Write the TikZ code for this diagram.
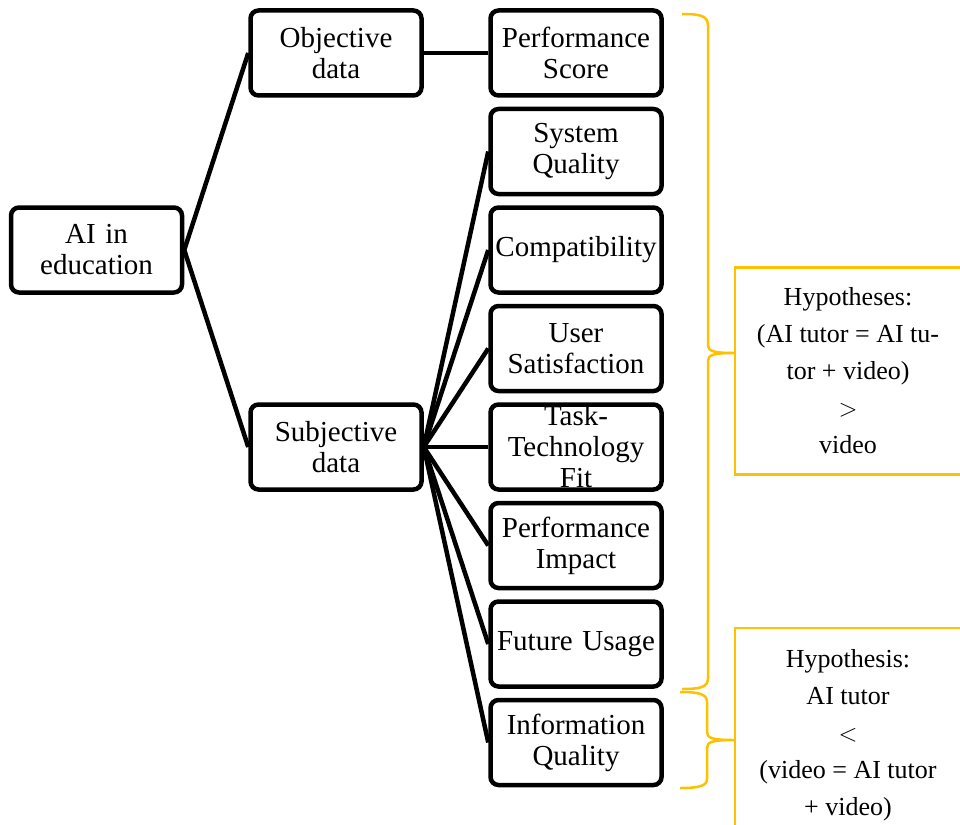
\documentclass[tikz,border=0pt]{standalone}
\usepackage{fontspec}
\setmainfont{Liberation Serif}
\usetikzlibrary{shapes.geometric, arrows, positioning}
\definecolor{hypyellow}{HTML}{FFC000}
\tikzstyle{box} = [rectangle, rounded corners=8pt, minimum width=171pt, minimum height=85pt, text width=167pt, inner xsep=2pt, align=center, draw=black, line width=4.5pt, fill=white, font=\fontsize{29}{31}\selectfont]
\tikzstyle{hypbox} = [rectangle, minimum width=226pt, minimum height=207pt, align=center, draw=hypyellow, line width=2.5pt, font=\fontsize{26}{37}\selectfont]
\tikzstyle{link} = [line width=4.5pt]
\tikzstyle{brace} = [draw=hypyellow, line width=2.5pt]

\begin{document}
\begin{tikzpicture}[x=1pt, y=-1pt, node distance=98.5pt]
    \useasboundingbox (0,0) rectangle (960,824);
    \clip (0,0) rectangle (960,824);
    % Nodes
    \node (ai) [box, minimum width=171pt, text width=167pt] at (96.5,250) {AI in\\education};
    \node (obj) [box] at (336,53) {Objective\\data};
    \node (subj) [box] at (336,447) {Subjective\\data};
    \node (perf) [box] at (576,53) {Performance\\Score};
    \node (sysq) [box, below of=perf] {System\\Quality};
    \node (comp) [box, below of=sysq] {Compatibility};
    \node (usat) [box, below of=comp] {User\\Satisfaction};
    \node (ttf) [box, below of=usat, inner ysep=-2pt] {Task-\\Technology\\Fit};
    \node (pimp) [box, below of=ttf] {Performance\\Impact};
    \node (fuse) [box, below of=pimp] {Future Usage};
    \node (infq) [box, below of=fuse] {Information\\Quality};
    \node (hypa) [hypbox] at (848,371) {Hypotheses:\\(AI tutor = AI tu-\\tor + video)\\$>$\\video};
    \node (hypb) [hypbox, minimum height=214pt] at (848,735) {Hypothesis:\\AI tutor\\$<$\\(video = AI tutor\\+ video)};

    % Lines
    \draw [link] (ai.east) -- (obj.west);
    \draw [link] (ai.east) -- (subj.west);
    \draw [link] (obj.east) -- (perf.west);
    \draw [link] (subj.east) -- (sysq.west);
    \draw [link] (subj.east) -- (comp.west);
    \draw [link] (subj.east) -- (usat.west);
    \draw [link] (subj.east) -- (ttf.west);
    \draw [link] (subj.east) -- (pimp.west);
    \draw [link] (subj.east) -- (fuse.west);
    \draw [link] (subj.east) -- (infq.west);

    % Braces
    \draw [brace] (682,14) .. controls (701,14) and (708,16) .. (708,26) -- (708,345)
        .. controls (708,351) and (713,353) .. (hypa.west |- 0,353)
        .. controls (713,353) and (708,355) .. (708,361) -- (708,678)
        .. controls (708,687) and (701,689) .. (682,689);
    \draw [brace] (680,692) .. controls (699,692) and (707,694) .. (707,702) -- (707,732)
        .. controls (707,738) and (712,740) .. (hypb.west |- 0,740)
        .. controls (712,740) and (707,742) .. (707,748) -- (707,779)
        .. controls (707,786) and (699,788) .. (680,788);
\end{tikzpicture}
\end{document}
